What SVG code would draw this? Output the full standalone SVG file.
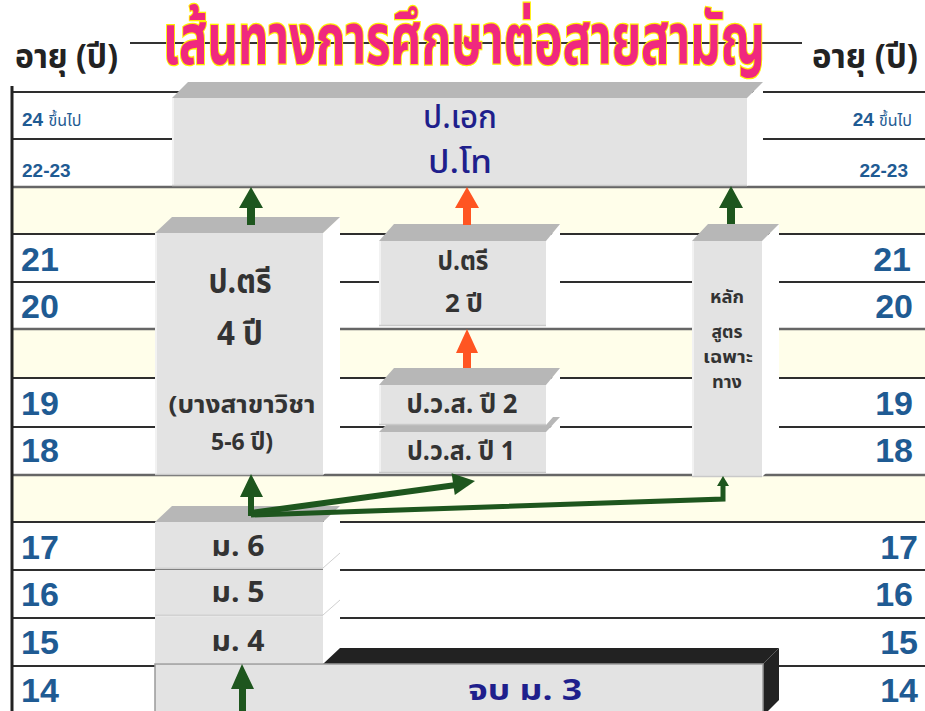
<svg xmlns="http://www.w3.org/2000/svg" width="925" height="711" viewBox="0 0 925 711">
<defs>
<style>
.band{fill:#fffeea}
.rl{stroke:#2e2e2e;stroke-width:2}
.rlb{stroke:#666;stroke-width:2.5}
.front{fill:#e3e3e3}
.top{fill:#b7b7b7}
.side{fill:#ffffff}
.num{font-family:'Liberation Sans',Arial,sans-serif;font-weight:bold;fill:#1f5b93}
.th{font-family:'Noto Sans Thai','Noto Sans','DejaVu Sans',sans-serif}
.lbl{fill:#333333;text-anchor:middle;font-weight:bold}
.navy{fill:#1f1f8c;text-anchor:middle}
.g{fill:#1e561e}
.o{fill:#ff5522}
</style>
</defs>
<rect width="925" height="711" fill="#ffffff"/>

<g id="grid">
<rect class="band" x="12" y="187" width="913" height="47"/>
<rect class="band" x="12" y="329" width="913" height="49"/>
<rect class="band" x="12" y="475" width="913" height="47"/>
<line class="rl" x1="12" y1="92" x2="925" y2="92"/>
<line class="rl" x1="12" y1="139" x2="925" y2="139"/>
<line class="rlb" x1="12" y1="187" x2="925" y2="187"/>
<line class="rl" x1="12" y1="234" x2="925" y2="234"/>
<line class="rl" x1="12" y1="282" x2="925" y2="282"/>
<line class="rlb" x1="12" y1="329" x2="925" y2="329"/>
<line class="rl" x1="12" y1="378" x2="925" y2="378"/>
<line class="rl" x1="12" y1="427" x2="925" y2="427"/>
<line class="rlb" x1="12" y1="475" x2="925" y2="475"/>
<line class="rl" x1="12" y1="522" x2="925" y2="522"/>
<line class="rl" x1="12" y1="570" x2="925" y2="570"/>
<line class="rl" x1="12" y1="618" x2="925" y2="618"/>
<line class="rl" x1="12" y1="666" x2="925" y2="666"/>
<line x1="12" y1="86" x2="12" y2="711" stroke="#222" stroke-width="3"/>
</g>

<g id="header">
<line x1="130" y1="43" x2="802" y2="43" stroke="#333" stroke-width="2"/>
<text class="th" x="15" y="68" font-size="34" font-weight="bold" fill="#222" textLength="103" lengthAdjust="spacingAndGlyphs">อายุ (ปี)</text>
<text class="th" x="812" y="68" font-size="34" font-weight="bold" fill="#222" textLength="106" lengthAdjust="spacingAndGlyphs">อายุ (ปี)</text>
<text class="th" transform="translate(163,64) scale(1,1.3)" x="0" y="0" font-size="54" font-weight="bold" fill="#f0287f" stroke="#ffee00" stroke-width="2" paint-order="stroke" textLength="602" lengthAdjust="spacingAndGlyphs">เส้นทางการศึกษาต่อสายสามัญ</text>
</g>

<g id="age-left">
<text class="num" x="22" y="126" font-size="19">24 <tspan class="th" font-weight="normal" font-size="16">ขึ้นไป</tspan></text>
<text class="num" x="22" y="177" font-size="19">22-23</text>
<text class="num" x="21" y="271" font-size="34">21</text>
<text class="num" x="21" y="318" font-size="34">20</text>
<text class="num" x="21" y="415" font-size="34">19</text>
<text class="num" x="21" y="462" font-size="34">18</text>
<text class="num" x="21" y="559" font-size="34">17</text>
<text class="num" x="21" y="606" font-size="34">16</text>
<text class="num" x="21" y="654" font-size="34">15</text>
<text class="num" x="21" y="702" font-size="34">14</text>
</g>

<g id="age-right" text-anchor="end">
<text class="num" x="912" y="126" font-size="19">24 <tspan class="th" font-weight="normal" font-size="16">ขึ้นไป</tspan></text>
<text class="num" x="908" y="177" font-size="19">22-23</text>
<text class="num" x="911" y="271" font-size="34">21</text>
<text class="num" x="913" y="318" font-size="34">20</text>
<text class="num" x="913" y="415" font-size="34">19</text>
<text class="num" x="913" y="462" font-size="34">18</text>
<text class="num" x="918" y="559" font-size="34">17</text>
<text class="num" x="913" y="606" font-size="34">16</text>
<text class="num" x="918" y="654" font-size="34">15</text>
<text class="num" x="918" y="702" font-size="34">14</text>
</g>

<g id="node-phd">
<polygon class="side" points="747,98 763,82 763,170 747,186"/>
<polygon class="top" points="172,98 188,82 763,82 747,98"/>
<rect class="front" x="172" y="98" width="575" height="88"/>
<line x1="173" y1="98" x2="173" y2="186" stroke="#f2f2f2" stroke-width="2"/>
<line x1="172" y1="185.5" x2="747" y2="185.5" stroke="#c9c9c9" stroke-width="1.5"/>
<text class="th navy" x="460" y="128" font-size="32" font-weight="500" textLength="74" lengthAdjust="spacingAndGlyphs">ป.เอก</text>
<text class="th navy" x="460" y="173" font-size="32" font-weight="500" textLength="64" lengthAdjust="spacingAndGlyphs">ป.โท</text>
</g>

<g id="node-bachelor4">
<polygon class="side" points="323,233 340,217 340,459 323,475"/>
<polygon class="top" points="155,233 172,217 340,217 323,233"/>
<rect class="front" x="155" y="233" width="168" height="242"/>
<line x1="156" y1="233" x2="156" y2="475" stroke="#f2f2f2" stroke-width="2"/>
<line x1="155" y1="474.5" x2="323" y2="474.5" stroke="#c9c9c9" stroke-width="1.5"/>
<text class="th lbl" x="240" y="293" font-size="34" textLength="63" lengthAdjust="spacingAndGlyphs">ป.ตรี</text>
<text class="th lbl" x="240" y="345" font-size="34" textLength="46" lengthAdjust="spacingAndGlyphs">4 ปี</text>
<text class="th lbl" x="242" y="413" font-size="24" font-weight="500" textLength="147" lengthAdjust="spacingAndGlyphs">(บางสาขาวิชา</text>
<text class="th lbl" x="242" y="450" font-size="24" textLength="62" lengthAdjust="spacingAndGlyphs">5-6 ปี)</text>
</g>

<g id="node-bachelor2">
<polygon class="side" points="546,241 560,224 560,310 546,326"/>
<polygon class="top" points="379,241 394,224 560,224 546,241"/>
<rect class="front" x="379" y="241" width="167" height="85"/>
<line x1="380" y1="241" x2="380" y2="326" stroke="#f2f2f2" stroke-width="2"/>
<line x1="379" y1="325.5" x2="546" y2="325.5" stroke="#c9c9c9" stroke-width="1.5"/>
<text class="th lbl" x="463" y="270" font-size="26" textLength="51" lengthAdjust="spacingAndGlyphs">ป.ตรี</text>
<text class="th lbl" x="464" y="312" font-size="25" textLength="38" lengthAdjust="spacingAndGlyphs">2 ปี</text>
</g>

<g id="node-pvs1">
<polygon class="side" points="546,432 560,417 560,458 546,473"/>
<polygon class="top" points="379,432 394,417 560,417 546,432"/>
<rect class="front" x="379" y="432" width="167" height="41"/>
<line x1="380" y1="432" x2="380" y2="473" stroke="#f2f2f2" stroke-width="2"/>
<line x1="379" y1="472.5" x2="546" y2="472.5" stroke="#c9c9c9" stroke-width="1.5"/>
<text class="th lbl" x="461" y="460" font-size="26" textLength="108" lengthAdjust="spacingAndGlyphs">ป.ว.ส. ปี 1</text>
</g>

<g id="node-pvs2">
<polygon class="side" points="546,385 560,368 560,409 546,425"/>
<polygon class="top" points="379,385 394,368 560,368 546,385"/>
<rect class="front" x="379" y="385" width="167" height="40"/>
<line x1="380" y1="385" x2="380" y2="425" stroke="#f2f2f2" stroke-width="2"/>
<line x1="379" y1="424.5" x2="546" y2="424.5" stroke="#c9c9c9" stroke-width="1.5"/>
<text class="th lbl" x="462" y="413" font-size="26" textLength="111" lengthAdjust="spacingAndGlyphs">ป.ว.ส. ปี 2</text>
</g>

<g id="node-special">
<polygon class="side" points="762,241 779,224 779,460 762,477"/>
<polygon class="top" points="692,241 708,224 779,224 762,241"/>
<rect class="front" x="692" y="241" width="70" height="236"/>
<line x1="693" y1="241" x2="693" y2="477" stroke="#f2f2f2" stroke-width="2"/>
<line x1="692" y1="476.5" x2="762" y2="476.5" stroke="#c9c9c9" stroke-width="1.5"/>
<text class="th lbl" x="727" y="303" font-size="17" font-weight="500" textLength="34" lengthAdjust="spacingAndGlyphs">หลัก</text>
<text class="th lbl" x="727" y="338" font-size="17" font-weight="500" textLength="31" lengthAdjust="spacingAndGlyphs">สูตร</text>
<text class="th lbl" x="728" y="363" font-size="17" font-weight="500" textLength="50" lengthAdjust="spacingAndGlyphs">เฉพาะ</text>
<text class="th lbl" x="727" y="388" font-size="17" font-weight="500" textLength="30" lengthAdjust="spacingAndGlyphs">ทาง</text>
</g>

<g id="node-m3">
<polygon fill="#222" points="763,664 779,648 779,700 763,716"/>
<polygon fill="#222" points="323,664 340,648 779,648 763,664"/>
<rect x="155" y="664" width="608" height="60" fill="#e3e3e3" stroke="#9a9a9a" stroke-width="1.5"/>
<text class="th navy" x="525" y="700" font-size="29" font-weight="bold" textLength="114" lengthAdjust="spacingAndGlyphs">จบ ม. 3</text>
</g>

<g id="node-m6">
<polygon class="side" points="323,522 340,506 340,646 323,663"/>
<line x1="323" y1="568" x2="340" y2="553" stroke="#d0d0d0" stroke-width="1"/>
<line x1="323" y1="615" x2="340" y2="600" stroke="#d0d0d0" stroke-width="1"/>
<polygon class="top" points="155,522 172,506 340,506 323,522"/>
<rect class="front" x="155" y="522" width="168" height="47"/>
<line x1="155" y1="568.5" x2="323" y2="568.5" stroke="#d2d2d2" stroke-width="2"/>
<text class="th lbl" x="238" y="556" font-size="28" textLength="53" lengthAdjust="spacingAndGlyphs">ม. 6</text>
</g>
<g id="node-m5">
<rect class="front" x="155" y="570" width="168" height="46"/>
<line x1="155" y1="615.5" x2="323" y2="615.5" stroke="#d2d2d2" stroke-width="2"/>
<text class="th lbl" x="238" y="602" font-size="28" textLength="53" lengthAdjust="spacingAndGlyphs">ม. 5</text>
</g>
<g id="node-m4">
<rect class="front" x="155" y="617" width="168" height="46"/>
<text class="th lbl" x="238" y="651" font-size="28" textLength="53" lengthAdjust="spacingAndGlyphs">ม. 4</text>
</g>

<g id="connectors">
<polygon class="g" points="251,187 263,208 255,208 255,225 247,225 247,208 239,208"/>
<polygon class="o" points="467,187 479,208 471,208 471,225 463,225 463,208 455,208"/>
<polygon class="g" points="731,186 743,208 735,208 735,224 727,224 727,208 719,208"/>
<polygon class="o" points="467,329 478,353 471,353 471,368 463,368 463,353 456,353"/>
<polygon class="g" points="251,474 263,497 254,497 254,516 248,516 248,497 240,497"/>
<polyline points="251,513 456,485" fill="none" stroke="#1e561e" stroke-width="6"/>
<polygon class="g" points="475,481 451.6,473.3 454.8,495.1"/>
<polyline points="251,515 723,499 723,484" fill="none" stroke="#1e561e" stroke-width="5"/>
<polygon class="g" points="723,476 729,486 717,486"/>
<polygon class="g" points="242,664 254,689 246,689 246,711 239,711 239,689 231,689"/>
</g>
</svg>
